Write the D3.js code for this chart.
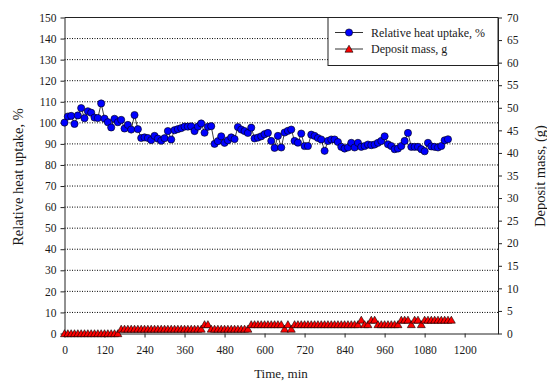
<!DOCTYPE html>
<html>
<head>
<meta charset="utf-8">
<script src="https://cdn.jsdelivr.net/npm/d3@7/dist/d3.min.js"></script>
<style>
  body { margin: 0; background: #fff; }
  text { font-family: "Liberation Serif", "Times New Roman", serif; fill: #1a1a1a; }
</style>
</head>
<body>
<svg id="chart" width="547" height="383"></svg>
<script>
// time, min (one reading every 10 min)
var heatTime = [0,10,20,30,40,50,60,70,80,90,100,110,120,130,140,150,160,170,180,190,
  200,210,220,230,240,250,260,270,280,290,300,310,320,330,340,350,360,370,380,390,
  400,410,420,430,440,450,460,470,480,490,500,510,520,530,540,550,560,570,580,590,
  600,610,620,630,640,650,660,670,680,690,700,710,720,730,740,750,760,770,780,790,
  800,810,820,830,840,850,860,870,880,890,900,910,920,930,940,950,960,970,980,990,
  1000,1010,1020,1030,1040,1050,1060,1070,1080,1090,1100,1110,1120,1130,1140,1150];

// relative heat uptake, %
var heatUptake = [100.1,103.0,103.3,99.5,103.5,107.0,102.2,105.5,104.8,102.5,102.3,109.2,102.0,100.3,97.8,101.9,100.3,101.4,97.3,99.0,
  96.8,103.7,97.0,92.8,93.1,92.8,91.8,93.8,92.5,91.5,92.7,96.1,92.1,96.5,97.0,97.5,98.2,98.2,98.3,96.1,
  98.2,99.7,95.3,98.1,98.4,90.0,91.3,93.6,90.5,91.7,93.1,92.3,98.0,96.8,96.1,95.2,97.7,92.6,93.0,93.6,
  94.6,95.2,91.4,88.1,93.8,88.3,95.4,96.2,96.8,91.4,90.6,94.9,89.0,89.0,94.4,93.8,92.8,92.1,86.7,91.4,
  92.1,92.1,90.9,88.6,87.8,88.3,90.5,88.3,90.5,88.6,89.0,89.7,89.4,89.7,90.5,91.4,93.6,89.8,89.0,87.5,
  87.8,89.0,91.4,95.2,88.6,88.6,88.6,87.5,86.5,90.5,88.8,88.6,88.3,89.0,91.7,92.2];

var depositTime = [0,10,20,30,40,50,60,70,80,90,100,110,120,130,140,150,160,170,180,190,
  200,210,220,230,240,250,260,270,280,290,300,310,320,330,340,350,360,370,380,390,
  400,410,420,430,440,450,460,470,480,490,500,510,520,530,540,550,560,570,580,590,
  600,610,620,630,640,650,660,670,680,690,700,710,720,730,740,750,760,770,780,790,
  800,810,820,830,840,850,860,870,880,890,900,910,920,930,940,950,960,970,980,990,
  1000,1010,1020,1030,1040,1050,1060,1070,1080,1090,1100,1110,1120,1130,1140,1150,1160];

// deposit mass, g
var depositMass = [0,0,0,0,0,0,0,0,0,0,0,0,0,0,0,0,0,1,1,1,
  1,1,1,1,1,1,1,1,1,1,1,1,1,1,1,1,1,1,1,1,
  1,1,2,2,1,1,1,1,1,1,1,1,1,1,1,1,2,2,2,2,
  2,2,2,2,2,2,1,2,1,2,2,2,2,2,2,2,2,2,2,2,
  2,2,2,2,2,2,2,2,2,3,2,2,3,3,2,2,2,2,2,2,
  2,3,3,3,2,3,3,2,3,3,3,3,3,3,3,3,3];

var xTicks = [0,120,240,360,480,600,720,840,960,1080,1200];
var leftTicks = [0,10,20,30,40,50,60,70,80,90,100,110,120,130,140,150];
var rightTicks = [0,5,10,15,20,25,30,35,40,45,50,55,60,65,70];
var gridValues = [10,20,30,40,50,60,70,80,90,100,110,120,130,140];

var svg = d3.select("#chart");
var plotL = 64.5, plotR = 498, plotT = 17.5, plotB = 333.5;

var x = d3.scaleLinear().domain([0, 1300]).range([plotL, plotR]);
var yL = d3.scaleLinear().domain([0, 150]).range([plotB, plotT]);
var yR = d3.scaleLinear().domain([0, 70]).range([plotB, plotT]);

// dotted grid
svg.append("g").selectAll("line").data(gridValues).enter().append("line")
  .attr("x1", plotL).attr("x2", plotR)
  .attr("y1", function (d) { return yL(d); }).attr("y2", function (d) { return yL(d); })
  .style("stroke", "#000").style("stroke-width", 1).style("stroke-dasharray", "1,1.5");

// top border
svg.append("line").attr("x1", plotL).attr("x2", plotR).attr("y1", plotT).attr("y2", plotT)
  .style("stroke", "#222").style("stroke-width", 1);

function styleAxis(g) {
  g.selectAll(".domain").style("stroke", "#222");
  g.selectAll(".tick line").style("stroke", "#222");
  g.selectAll(".tick text").style("font-family", "Liberation Serif, serif")
    .style("font-size", "11.5px").style("fill", "#1a1a1a");
}

var gx = svg.append("g").attr("transform", "translate(0," + plotB + ")")
  .call(d3.axisBottom(x).tickValues(xTicks).tickFormat(d3.format("d"))
    .tickSize(4).tickSizeOuter(0).tickPadding(8));
styleAxis(gx);

var gl = svg.append("g").attr("transform", "translate(" + plotL + ",0)")
  .call(d3.axisLeft(yL).tickValues(leftTicks).tickSize(4).tickSizeOuter(0).tickPadding(4));
styleAxis(gl);

var gr = svg.append("g").attr("transform", "translate(" + plotR + ",0)")
  .call(d3.axisRight(yR).tickValues(rightTicks).tickSize(4).tickSizeOuter(0).tickPadding(5));
styleAxis(gr);

// axis titles
svg.append("text").attr("x", 281).attr("y", 378).attr("text-anchor", "middle")
  .style("font-size", "13px").text("Time, min");
svg.append("text").attr("transform", "translate(23,177) rotate(-90)").attr("text-anchor", "middle")
  .style("font-size", "14.5px").text("Relative heat uptake, %");
svg.append("text").attr("transform", "translate(545,176) rotate(-90)").attr("text-anchor", "middle")
  .style("font-size", "14.5px").text("Deposit mass, (g)");

var heat = heatTime.map(function (t, i) { return { t: t, v: heatUptake[i] }; });
var dep = depositTime.map(function (t, i) { return { t: t, v: depositMass[i] }; });

var tri = "M0,-3.8L4,3.2L-4,3.2Z";

// deposit mass series
svg.append("path").datum(dep)
  .attr("d", d3.line().x(function (d) { return x(d.t); }).y(function (d) { return yR(d.v); }))
  .style("fill", "none").style("stroke", "#000").style("stroke-width", 0.75);
svg.append("g").selectAll("path").data(dep).enter().append("path")
  .attr("d", tri)
  .attr("transform", function (d) { return "translate(" + x(d.t) + "," + yR(d.v) + ")"; })
  .style("fill", "#ff0000").style("stroke", "#000").style("stroke-width", 0.6);

// heat uptake series
svg.append("path").datum(heat)
  .attr("d", d3.line().x(function (d) { return x(d.t); }).y(function (d) { return yL(d.v); }))
  .style("fill", "none").style("stroke", "#000").style("stroke-width", 0.75);
svg.append("g").selectAll("circle").data(heat).enter().append("circle")
  .attr("cx", function (d) { return x(d.t); }).attr("cy", function (d) { return yL(d.v); })
  .attr("r", 3.6)
  .style("fill", "#0000ff").style("stroke", "#000").style("stroke-width", 0.6);

// legend
var lg = svg.append("g");
lg.append("rect").attr("x", 328).attr("y", plotT).attr("width", plotR - 328).attr("height", 48)
  .style("fill", "#fff").style("stroke", "#222").style("stroke-width", 1);
lg.append("line").attr("x1", 335).attr("x2", 363).attr("y1", 32.5).attr("y2", 32.5)
  .style("stroke", "#333").style("stroke-width", 1);
lg.append("circle").attr("cx", 349).attr("cy", 32.5).attr("r", 3.6)
  .style("fill", "#0000ff").style("stroke", "#000").style("stroke-width", 0.6);
lg.append("text").attr("x", 371).attr("y", 36.5).style("font-size", "12px").text("Relative heat uptake, %");
lg.append("line").attr("x1", 335).attr("x2", 363).attr("y1", 49).attr("y2", 49)
  .style("stroke", "#333").style("stroke-width", 1);
lg.append("path").attr("d", tri).attr("transform", "translate(349,49)")
  .style("fill", "#ff0000").style("stroke", "#000").style("stroke-width", 0.6);
lg.append("text").attr("x", 371).attr("y", 53).style("font-size", "12px").text("Deposit mass, g");
</script>
</body>
</html>
